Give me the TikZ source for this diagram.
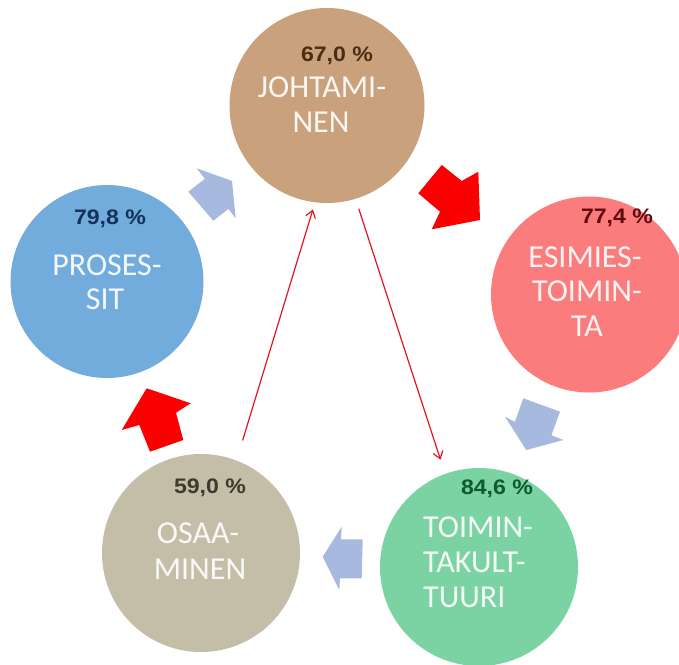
\documentclass[tikz,border=0pt]{standalone}
\usepackage{fontspec}
\setmainfont{Carlito}
\newfontfamily\pctfont{Liberation Sans}[FakeStretch=1.1]
\usetikzlibrary{arrows.meta}

% circle fills
\definecolor{johtc}{RGB}{201,161,125}
\definecolor{prosc}{RGB}{114,172,220}
\definecolor{esimc}{RGB}{251,124,124}
\definecolor{toimc}{RGB}{123,211,163}
\definecolor{osaac}{RGB}{196,189,167}
% percentage figures
\definecolor{johtpct}{RGB}{75,45,20}
\definecolor{prospct}{RGB}{18,50,90}
\definecolor{esimpct}{RGB}{95,10,15}
\definecolor{toimpct}{RGB}{15,90,45}
\definecolor{osaapct}{RGB}{60,58,45}
% arrows
\definecolor{flowblue}{RGB}{167,185,222}
\definecolor{flowred}{RGB}{250,0,0}
\definecolor{linkred}{RGB}{230,20,30}

\tikzset{
  ball/.style={circle, inner sep=0pt, outer sep=0pt, draw=none},
  pct/.style={inner sep=0pt, anchor=base, font=\pctfont\bfseries\fontsize{21}{21}\selectfont},
  lbl/.style={inner sep=0pt, anchor=base, font=\fontsize{32}{32}\selectfont},
  bluearrow/.style={fill=flowblue},
  redarrow/.style={fill=flowred},
  link/.style={draw=linkred, line width=1.2pt, -{Straight Barb[length=7pt,width=10pt]}},
}

\begin{document}
\begin{tikzpicture}[x=1pt, y=-1pt]
\useasboundingbox (0,0) rectangle (679,664);
\clip (0,0) rectangle (679,664);
\fill[white] (0,0) rectangle (679,664);

% the five circles
\node[ball, fill=johtc, minimum size=195pt] (joh)  at (327,105.5) {};
\node[ball, fill=prosc, minimum size=193pt] (pros) at (107,281.5) {};
\node[ball, fill=esimc, minimum size=196pt] (esim) at (589,294.5) {};
\node[ball, fill=toimc, minimum size=198pt] (toim) at (479,567) {};
\node[ball, fill=osaac, minimum size=198pt] (osaa) at (201,553) {};

% block arrows of the cycle
\fill[bluearrow] (188.3,191.7) -- (204.9,178.8) -- (196.7,168.3) -- (232,181)
  -- (235.7,218.3) -- (228.4,208.9) -- (213.3,220.7) -- cycle;
\fill[redarrow] (441.7,165) -- (461.7,181) -- (478.3,171.7) -- (480,220)
  -- (431.7,229.3) -- (440,211.7) -- (418.3,193.3) -- cycle;
\fill[bluearrow] (523.3,398.3) -- (560,411.7) -- (551.4,435.2) -- (563.3,440)
  -- (526.3,450) -- (505,416.7) -- (514.9,421.8) -- cycle;
\fill[bluearrow] (322.7,556.7) -- (341.7,526.7) -- (341,539.3) -- (362.7,539.3)
  -- (361.7,578.3) -- (340,578.3) -- (339.3,590) -- cycle;
\fill[redarrow] (146.7,388.3) -- (190.7,403.3) -- (176,412.7) -- (183.3,440)
  -- (150,451.7) -- (139.3,425) -- (121.7,430) -- cycle;

% thin cross links
\draw[link, shorten <=21pt, shorten >=7.5pt] (osaa.69) -- (joh.263);
\draw[link, shorten <=10.5pt, shorten >=15pt] (joh.287) -- (toim.110);

% JOHTAMINEN
\node[pct, text=johtpct] (johp) at (337,61.5) {67,0 \%};
\node[lbl, text=white!90!johtc] (johl1) at (322,97) {JOHTAMI-};
\node[lbl, text=white!90!johtc] (johl2) at (321,132) {NEN};

% PROSESSIT
\node[pct, text=prospct] (prosp) at (110,224) {79,8 \%};
\node[lbl, text=white!90!prosc] (prosl1) at (107,275) {PROSES-};
\node[lbl, text=white!90!prosc] (prosl2) at (105,309) {SIT};

% ESIMIESTOIMINTA
\node[pct, text=esimpct] (esimp) at (617,223.5) {77,4 \%};
\node[lbl, text=white!90!esimc] (esiml1) at (585,267) {ESIMIES-};
\node[lbl, text=white!90!esimc] (esiml2) at (587,301) {TOIMIN-};
\node[lbl, text=white!90!esimc] (esiml3) at (587,336) {TA};

% TOIMINTAKULTTUURI
\node[pct, text=toimpct] (toimp) at (497,494.5) {84,6 \%};
\node[lbl, anchor=base west, text=white!90!toimc] (toiml1) at (423,537) {TOIMIN-};
\node[lbl, anchor=base west, text=white!90!toimc] (toiml2) at (423,572) {TAKULT-};
\node[lbl, anchor=base west, text=white!90!toimc] (toiml3) at (423,607) {TUURI};

% OSAAMINEN
\node[pct, text=osaapct] (osaap) at (210,493.5) {59,0 \%};
\node[lbl, text=white!90!osaac] (osaal1) at (198,543) {OSAA-};
\node[lbl, text=white!90!osaac] (osaal2) at (200,579) {MINEN};
\end{tikzpicture}
\end{document}
